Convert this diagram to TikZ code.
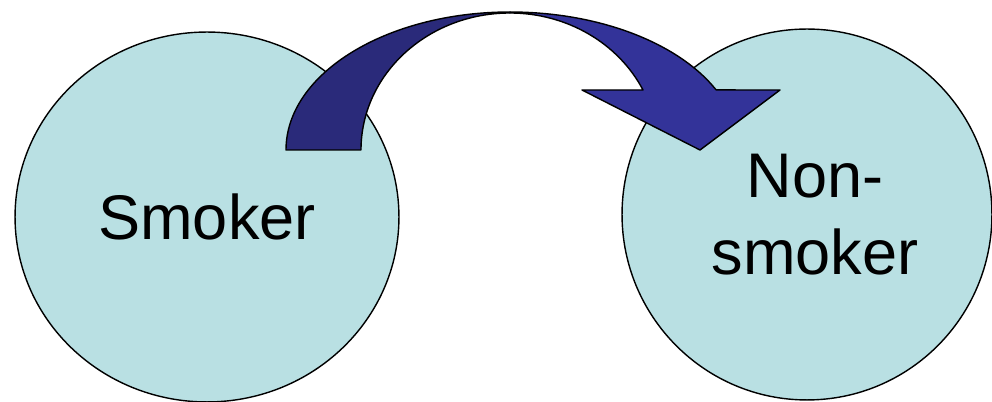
\documentclass[tikz,border=0pt]{standalone}
\usepackage{fontspec}
\setmainfont{Liberation Sans}
\usetikzlibrary{shapes.geometric}
\definecolor{discfill}{RGB}{185,224,227}
\definecolor{arrowback}{RGB}{42,42,122}
\definecolor{arrowfront}{RGB}{51,51,153}
\tikzset{
  disc/.style={ellipse, draw=black, thick, fill=discfill, inner sep=0pt,
               font=\fontsize{35.9}{43.7}\selectfont, align=center},
  bendarrow/.style={draw=black, thick, line join=round}
}

\begin{document}
\begin{tikzpicture}[x=0.02cm, y=0.02cm]
\useasboundingbox (0,0) rectangle (992,402);
\node[disc, minimum width=7.68cm, minimum height=7.4cm] (smoker) at (207,185) {Smoker};
\node[disc, minimum width=7.4cm, minimum height=7.42cm] (nonsmoker) at (807,187.5)
  {\hspace*{0.32cm}Non-\\\hspace*{0.32cm}smoker};
% curved arrow: back half
\path[bendarrow, fill=arrowback] (286,252)
  arc[start angle=180, end angle=90, x radius=224, y radius=138]
  -- (510,389)
  arc[start angle=90, end angle=180, x radius=149, y radius=137] -- cycle;
% curved arrow: front half with head
\path[bendarrow, fill=arrowfront] (510,390)
  arc[start angle=90, end angle=25.8, x radius=229, y radius=138]
  -- (780,312) -- (700,252) -- (582,312) -- (643,312)
  arc[start angle=25.97, end angle=90, x radius=148, y radius=137] -- cycle;
\end{tikzpicture}
\end{document}
